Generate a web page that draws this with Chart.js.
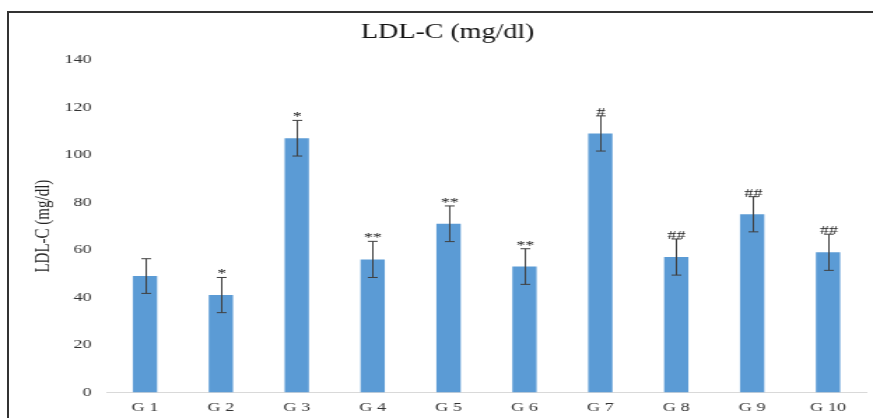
<!DOCTYPE html>
<html>
<head>
<meta charset="utf-8">
<script src="https://cdn.jsdelivr.net/npm/chart.js@4"></script>
<style>
  html, body { margin: 0; padding: 0; background: #fff; overflow: hidden; }
  /* the source figure is stretched sideways, so the chart is drawn narrow and scaled */
  #wrap { position: absolute; left: 0; top: 0; width: 624px; height: 418px;
          transform: scaleX(1.399); transform-origin: 0 0; }
  #frame { position: absolute; left: 7px; top: 11px; width: 880px; height: 420px;
           border-left: 2px solid #333; border-top: 2px solid #333; }
</style>
</head>
<body>
<div id="frame"></div>
<div id="wrap"><canvas id="myChart" width="624" height="418"></canvas></div>
<script>
// 데이터
var groups = ['G 1', 'G 2', 'G 3', 'G 4', 'G 5', 'G 6', 'G 7', 'G 8', 'G 9', 'G 10'];
var ldlValues = [49, 41, 107, 56, 71, 53, 109, 57, 75, 59];
var ldlErrors = [7.3, 7.4, 7.5, 7.6, 7.5, 7.5, 7.4, 7.6, 7.4, 7.6];
var sigMarks = ['', '*', '*', '**', '**', '**', '#', '##', '##', '##'];
var yTicks = [0, 20, 40, 60, 80, 100, 120, 140];

var serif = "'Liberation Serif', 'DejaVu Serif', serif";

// 오차 막대 + 유의성 표시
var errorBars = {
  id: 'errorBars',
  afterDatasetsDraw: function(chart) {
    var ctx = chart.ctx;
    var y = chart.scales.y;
    var meta = chart.getDatasetMeta(0);
    ctx.save();
    ctx.strokeStyle = '#404040';
    ctx.lineWidth = 1;
    ctx.fillStyle = '#222';
    ctx.font = '13px ' + serif;
    ctx.textAlign = 'center';
    ctx.textBaseline = 'bottom';
    meta.data.forEach(function(bar, i) {
      var x = Math.round(bar.x) + 0.5;
      var top = y.getPixelForValue(ldlValues[i] + ldlErrors[i]);
      var bot = y.getPixelForValue(ldlValues[i] - ldlErrors[i]);
      ctx.beginPath();
      ctx.moveTo(x, top); ctx.lineTo(x, bot);
      ctx.moveTo(x - 3.5, top); ctx.lineTo(x + 3.5, top);
      ctx.moveTo(x - 3.5, bot); ctx.lineTo(x + 3.5, bot);
      ctx.stroke();
      if (sigMarks[i]) ctx.fillText(sigMarks[i], x, top + 3);
    });
    ctx.restore();
  }
};

new Chart(document.getElementById('myChart'), {
  type: 'bar',
  data: {
    labels: groups,
    datasets: [{
      label: 'LDL-C (mg/dl)',
      data: ldlValues,
      backgroundColor: '#5b9bd5',
      barPercentage: 0.32,
      categoryPercentage: 1
    }]
  },
  options: {
    responsive: false,
    animation: false,
    layout: { padding: { left: 21, right: 5, top: 0, bottom: 0 } },
    plugins: {
      legend: { display: false },
      tooltip: { enabled: false },
      title: {
        display: true,
        text: 'LDL-C (mg/dl)',
        color: '#111',
        font: { family: serif, size: 20, weight: 'normal' },
        padding: { top: 21, bottom: 14.8 }
      }
    },
    scales: {
      x: {
        grid: { display: false, drawTicks: false },
        border: { display: true, color: '#d9d9d9', width: 1 },
        ticks: { color: '#333', font: { family: serif, size: 13 }, padding: 7 },
        afterFit: function(s) { s.height = 25.5; }
      },
      y: {
        min: 0,
        max: 140,
        afterBuildTicks: function(s) { s.ticks = yTicks.map(function(v) { return { value: v }; }); },
        grid: { display: false, drawTicks: false },
        border: { display: false },
        ticks: { color: '#333', font: { family: serif, size: 13 }, padding: 11 },
        title: {
          display: true,
          text: 'LDL-C (mg/dl)',
          color: '#222',
          font: { family: serif, size: 15 },
          padding: { top: 1.5, bottom: 0 }
        },
        afterFit: function(s) { s.width = 55.5; }
      }
    }
  },
  plugins: [errorBars]
});
</script>
</body>
</html>
